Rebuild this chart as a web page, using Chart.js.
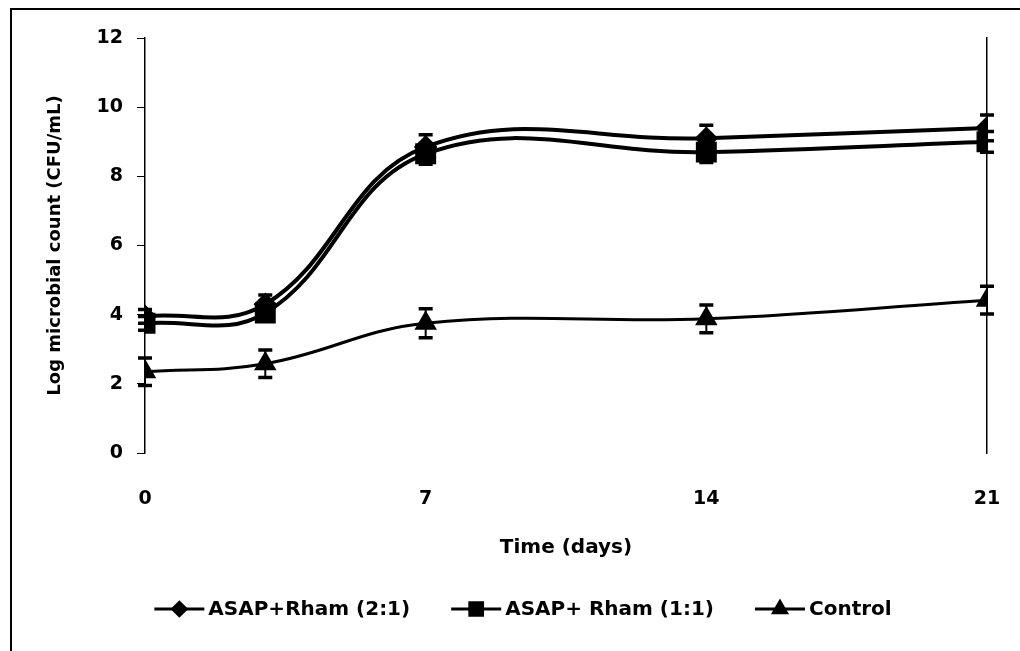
<!DOCTYPE html>
<html>
<head>
<meta charset="utf-8">
<title>Log microbial count over time</title>
<script src="https://cdn.jsdelivr.net/npm/chart.js@4.4.0/dist/chart.umd.min.js"></script>
<style>
  html, body { margin: 0; padding: 0; background: #fff; }
  #wrap { position: relative; width: 1020px; height: 651px; overflow: hidden; }
  /* outer frame: only top and left edges fall inside the page */
  #frame { position: absolute; left: 10px; top: 8px; width: 1100px; height: 800px;
           border-top: 2px solid #000; border-left: 2px solid #000; }
  #chart { position: absolute; left: 0; top: 0; }
</style>
</head>
<body>
<div id="wrap">
  <div id="frame"></div>
  <canvas id="chart" width="1020" height="651"></canvas>
</div>
<script>
// sampling days
const days = [0, 3, 7, 14, 21];

// log CFU/mL per treatment, with +/- error
const asapRham21 = [3.95, 4.3, 8.85, 9.1, 9.4];
const asapRham21Err = [0.2, 0.27, 0.35, 0.38, 0.37];
const asapRham11 = [3.75, 4.05, 8.65, 8.7, 9.0];
const asapRham11Err = [0.2, 0.2, 0.3, 0.3, 0.3];
const control = [2.35, 2.58, 3.75, 3.88, 4.42];
const controlErr = [0.4, 0.4, 0.42, 0.4, 0.4];

const xTicks = [0, 7, 14, 21];
const yTicks = [0, 2, 4, 6, 8, 10, 12];

const FONT = '"DejaVu Sans", sans-serif';

function toPoints(ys) {
    return days.map((d, i) => ({ x: d, y: ys[i] }));
}

// vertical error bars with flat caps
const errorBars = {
    id: 'errorBars',
    afterDatasetsDraw(chart) {
        const { ctx, scales: { x, y } } = chart;
        ctx.save();
        ctx.strokeStyle = '#000';
        chart.data.datasets.forEach(ds => {
            if (!ds.errors) return;
            ds.data.forEach((pt, j) => {
                const px = x.getPixelForValue(pt.x);
                const top = y.getPixelForValue(pt.y + ds.errors[j]);
                const bot = y.getPixelForValue(pt.y - ds.errors[j]);
                ctx.lineWidth = 2;
                ctx.beginPath();
                ctx.moveTo(px, top);
                ctx.lineTo(px, bot);
                ctx.stroke();
                ctx.lineWidth = 3.5;
                ctx.beginPath();
                ctx.moveTo(px - 7, top);
                ctx.lineTo(px + 7, top);
                ctx.moveTo(px - 7, bot);
                ctx.lineTo(px + 7, bot);
                ctx.stroke();
            });
        });
        ctx.restore();
    }
};

// legend drawn as line + marker, like the series themselves
const lineLegend = {
    id: 'lineLegend',
    afterDraw(chart) {
        const ctx = chart.ctx;
        const sets = chart.data.datasets;
        const lineLen = 50, gapText = 4, gapItem = 41, cy = 609, centerX = 523;
        ctx.save();
        ctx.font = 'bold 20px ' + FONT;
        ctx.textBaseline = 'middle';
        const widths = sets.map(ds => ctx.measureText(ds.label).width);
        const total = widths.reduce((a, w) => a + lineLen + gapText + w, 0) + gapItem * (sets.length - 1);
        let x = centerX - total / 2;
        sets.forEach((ds, i) => {
            ctx.strokeStyle = '#000';
            ctx.lineWidth = 3;
            ctx.beginPath();
            ctx.moveTo(x, cy);
            ctx.lineTo(x + lineLen, cy);
            ctx.stroke();
            ctx.fillStyle = '#000';
            Chart.helpers.drawPoint(ctx, {
                pointStyle: ds.pointStyle,
                radius: ds.pointRadius * 0.75,
                rotation: 0,
                borderWidth: 1
            }, x + lineLen / 2, cy);
            ctx.fillStyle = '#000';
            ctx.fillText(ds.label, x + lineLen + gapText, cy + 1);
            x += lineLen + gapText + widths[i] + gapItem;
        });
        ctx.restore();
    }
};

new Chart(document.getElementById('chart'), {
    type: 'line',
    data: {
        datasets: [
            {
                label: 'ASAP+Rham (2:1)',
                data: toPoints(asapRham21),
                errors: asapRham21Err,
                borderColor: '#000',
                borderWidth: 4,
                tension: 0.4,
                pointStyle: 'rectRot',
                pointRadius: 9,
                pointBackgroundColor: '#000',
                pointBorderColor: '#000'
            },
            {
                label: 'ASAP+ Rham (1:1)',
                data: toPoints(asapRham11),
                errors: asapRham11Err,
                borderColor: '#000',
                borderWidth: 4,
                tension: 0.4,
                pointStyle: 'rect',
                pointRadius: 12,
                pointBackgroundColor: '#000',
                pointBorderColor: '#000'
            },
            {
                label: 'Control',
                data: toPoints(control),
                errors: controlErr,
                borderColor: '#000',
                borderWidth: 3,
                tension: 0.4,
                pointStyle: 'triangle',
                pointRadius: 10,
                pointBackgroundColor: '#000',
                pointBorderColor: '#000'
            }
        ]
    },
    options: {
        responsive: false,
        animation: false,
        layout: { padding: { left: 0, top: 38, right: 33, bottom: 0 } },
        plugins: { legend: { display: false }, tooltip: { enabled: false } },
        scales: {
            x: {
                type: 'linear',
                min: 0,
                max: 21,
                afterBuildTicks: s => { s.ticks = xTicks.map(v => ({ value: v })); },
                // fixed height; label overhang is already covered by the layout padding
                afterFit: s => { s.height = 198; s.paddingLeft = 0; s.paddingRight = 0; },
                grid: { display: false },
                border: { display: false },
                ticks: { color: '#000', padding: 27, font: { family: FONT, size: 19, weight: 'bold' } },
                title: {
                    display: true,
                    text: 'Time (days)',
                    color: '#000',
                    padding: { top: 0, bottom: 91 },
                    font: { family: FONT, size: 20, weight: 'bold' }
                }
            },
            y: {
                min: 0,
                max: 12,
                afterBuildTicks: s => { s.ticks = yTicks.map(v => ({ value: v })); },
                afterFit: s => { s.width = 145; },
                grid: { display: true, drawOnChartArea: false, drawTicks: true, tickLength: 8, color: '#000', lineWidth: 1 },
                border: { display: true, color: '#000', width: 1.5 },
                ticks: { color: '#000', padding: 14, font: { family: FONT, size: 19, weight: 'bold' } },
                title: {
                    display: true,
                    text: 'Log microbial count (CFU/mL)',
                    color: '#000',
                    padding: { top: 45, bottom: 0 },
                    font: { family: FONT, size: 18, weight: 'bold' }
                }
            },
            yRight: {
                position: 'right',
                min: 0,
                max: 12,
                afterFit: s => { s.width = 0; },
                grid: { display: false },
                ticks: { display: false },
                border: { display: true, color: '#000', width: 1.5 }
            }
        }
    },
    plugins: [errorBars, lineLegend]
});
</script>
</body>
</html>
